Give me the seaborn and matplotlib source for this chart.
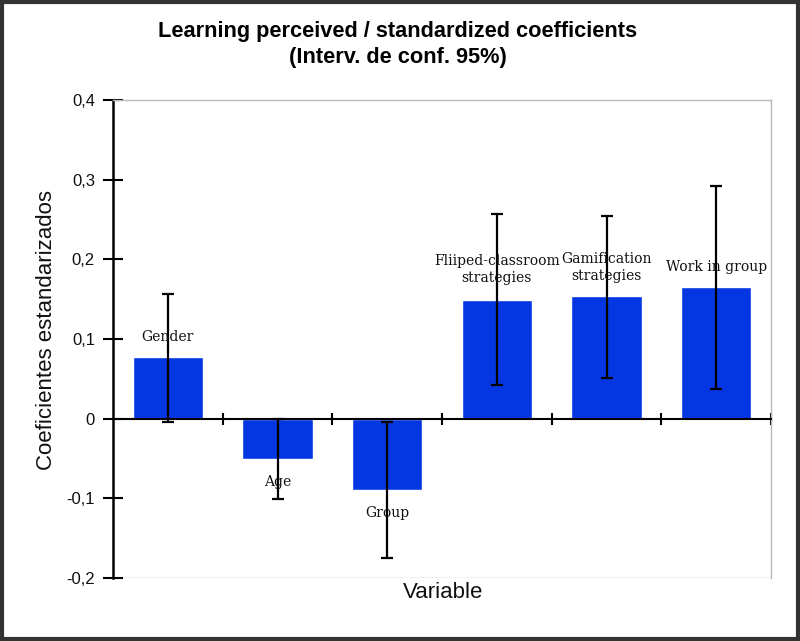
import matplotlib
matplotlib.use("Agg")
import matplotlib.pyplot as plt
import seaborn as sns
import pandas as pd
import numpy as np
from matplotlib.patches import Rectangle

# ---- data ----
categories = ["Gender", "Age", "Group", "Fliiped-classroom\nstrategies",
              "Gamification\nstrategies", "Work in group"]
coef = [0.0775, -0.051, -0.090, 0.149, 0.154, 0.165]
ci_low = [-0.004, -0.001, -0.004, 0.042, 0.051, 0.037]
ci_high = [0.157, -0.101, -0.175, 0.257, 0.254, 0.292]
label_y = [0.102, -0.079, -0.118, 0.187, 0.190, 0.190]
ytick_values = [-0.2, -0.1, 0.0, 0.1, 0.2, 0.3, 0.4]
ytick_labels = ["-0,2", "-0,1", "0", "0,1", "0,2", "0,3", "0,4"]

title_lines = ["Learning perceived / standardized coefficients",
               "(Interv. de conf. 95%)"]
ylabel = "Coeficientes estandarizados"
xlabel = "Variable"

df = pd.DataFrame({"Variable": categories, "Coef": coef})

sns.set_theme(style="white")
plt.rcParams['font.family'] = ['Liberation Sans', 'DejaVu Sans']

fig = plt.figure(figsize=(8, 6.41), dpi=100)
ax = fig.add_axes([113/800, 1-578/641, (771-113)/800, (578-100)/641])

bar_color = "#0437e2"
sns.barplot(data=df, x="Variable", y="Coef", color=bar_color, width=0.64,
            saturation=1, ax=ax, errorbar=None)

x = np.arange(len(categories))
lo = np.minimum(ci_low, ci_high)
hi = np.maximum(ci_low, ci_high)
c = np.array(coef)
ax.errorbar(x, c, yerr=[c - lo, hi - c], fmt='none', ecolor='black',
            elinewidth=1.6, capsize=4.5, capthick=1.6, zorder=5)

for xi, name, ly in zip(x, categories, label_y):
    ax.text(xi, ly, name, ha='center', va='center', fontsize=10,
            family=['DejaVu Serif'], color='#111111', linespacing=1.3, zorder=6)

ax.set_xlim(-0.5, len(categories) - 0.5)
ax.set_ylim(-0.2, 0.4)
ax.set_yticks(ytick_values)
ax.set_yticklabels(ytick_labels, fontsize=12)
ax.set_xticks(np.arange(len(categories)) + 0.5)
ax.set_xticklabels([""] * len(categories))

ax.spines['bottom'].set_position(('data', 0))
ax.spines['bottom'].set_color('black')
ax.spines['bottom'].set_linewidth(1.5)
ax.spines['left'].set_color('black')
ax.spines['left'].set_linewidth(1.8)
for s in ['top', 'right']:
    ax.spines[s].set_color('#b8b8b8')
    ax.spines[s].set_linewidth(1.0)
ax.axhline(-0.2, color='#b8b8b8', lw=1.0, zorder=0)

ax.tick_params(axis='y', direction='inout', length=14, width=1.5, color='black',
               left=True, pad=6, labelcolor='#111111')
ax.tick_params(axis='x', direction='inout', length=9, width=1.5, color='black',
               bottom=True)

ax.set_xlabel("")
ax.set_ylabel("")
fig.text(47/800, 1-330/641, ylabel, rotation=90, ha='center', va='center',
         fontsize=16, color='#111111')
fig.text(443/800, 1-593/641, xlabel, ha='center', va='center',
         fontsize=16, color='#111111')
for line, ypx in zip(title_lines, [32, 58]):
    fig.text(398/800, 1-ypx/641, line, ha='center', va='center', fontsize=15.7,
             fontweight='bold', color='black')

fig.patches.append(Rectangle((0.002, 0.003), 0.996, 0.994, transform=fig.transFigure,
                             fill=False, edgecolor='#333333', linewidth=3))

fig.savefig("out.png", dpi=100)
